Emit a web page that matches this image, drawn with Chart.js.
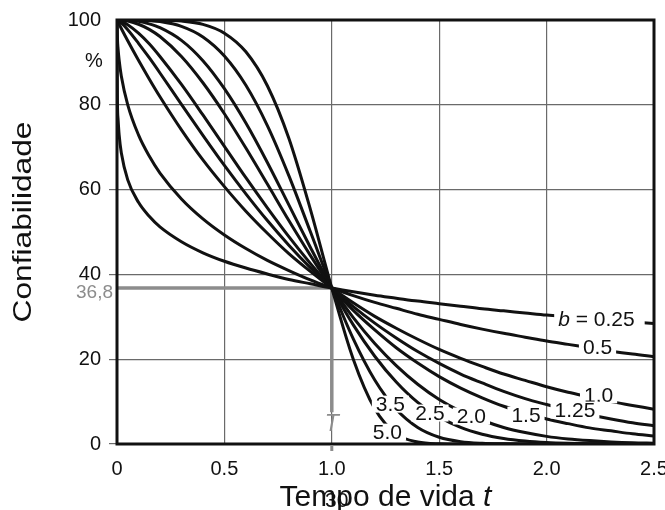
<!DOCTYPE html>
<html><head><meta charset="utf-8">
<script src="https://cdn.jsdelivr.net/npm/chart.js@4/dist/chart.umd.min.js"></script>
<style>html,body{margin:0;padding:0;background:#fff}canvas{display:block}</style>
</head><body>
<canvas id="c" width="665" height="510"></canvas>
<script>
// ---- data ----
const tValues = [0, 0.002, 0.005, 0.01, 0.02, 0.05, 0.1, 0.15, 0.2, 0.3, 0.4, 0.5, 0.6, 0.7, 0.8, 0.9, 1.0, 1.1, 1.2, 1.3, 1.4, 1.5, 1.6, 1.7, 1.8, 1.9, 2.0, 2.1, 2.2, 2.3, 2.4, 2.5];
const r_b025 = [100, 80.9, 76.6, 72.9, 68.7, 62.3, 57.0, 53.7, 51.2, 47.7, 45.1, 43.1, 41.5, 40.1, 38.8, 37.8, 36.8, 35.9, 35.1, 34.4, 33.7, 33.1, 32.5, 31.9, 31.4, 30.9, 30.4, 30.0, 29.6, 29.2, 28.8, 28.4];
const r_b05  = [100, 95.6, 93.2, 90.5, 86.8, 80.0, 72.9, 67.9, 63.9, 57.8, 53.1, 49.3, 46.1, 43.3, 40.9, 38.7, 36.8, 35.0, 33.4, 32.0, 30.6, 29.4, 28.2, 27.1, 26.1, 25.2, 24.3, 23.5, 22.7, 21.9, 21.2, 20.6];
const r_b10  = [100, 99.8, 99.5, 99.0, 98.0, 95.1, 90.5, 86.1, 81.9, 74.1, 67.0, 60.7, 54.9, 49.7, 44.9, 40.7, 36.8, 33.3, 30.1, 27.3, 24.7, 22.3, 20.2, 18.3, 16.5, 15.0, 13.5, 12.2, 11.1, 10.0, 9.1, 8.2];
const r_b125 = [100, 99.96, 99.87, 99.7, 99.3, 97.7, 94.5, 91.1, 87.5, 80.1, 72.8, 65.7, 59.0, 52.7, 46.9, 41.6, 36.8, 32.4, 28.5, 25.0, 21.8, 19.0, 16.5, 14.4, 12.4, 10.7, 9.3, 8.0, 6.9, 5.9, 5.0, 4.3];
const r_b15  = [100, 99.99, 99.96, 99.9, 99.7, 98.9, 96.9, 94.4, 91.4, 84.8, 77.6, 70.2, 62.8, 55.7, 48.9, 42.6, 36.8, 31.5, 26.9, 22.7, 19.1, 15.9, 13.2, 10.9, 8.9, 7.3, 5.9, 4.8, 3.8, 3.1, 2.4, 1.9];
const r_b20  = [100, 100, 100, 99.99, 99.96, 99.75, 99.0, 97.8, 96.1, 91.4, 85.2, 77.9, 69.8, 61.3, 52.7, 44.5, 36.8, 29.8, 23.7, 18.5, 14.1, 10.5, 7.7, 5.6, 3.9, 2.7, 1.8, 1.2, 0.8, 0.5, 0.3, 0.2];
const r_b25  = [100, 100, 100, 100, 99.99, 99.9, 99.7, 99.1, 98.2, 95.2, 90.4, 83.8, 75.7, 66.4, 56.4, 46.4, 36.8, 28.1, 20.7, 14.6, 9.8, 6.4, 3.9, 2.3, 1.3, 0.7, 0.35, 0.17, 0.08, 0.03, 0.01, 0];
const r_b35  = [100, 100, 100, 100, 100, 100, 99.97, 99.87, 99.64, 98.5, 96.0, 91.5, 84.6, 75.1, 63.3, 50.1, 36.8, 24.8, 15.1, 8.2, 3.9, 1.6, 0.56, 0.17, 0.04, 0.01, 0, 0, 0, 0, 0, 0];
const r_b50  = [100, 100, 100, 100, 100, 100, 100, 100, 99.97, 99.76, 98.98, 96.9, 92.5, 84.5, 72.1, 55.4, 36.8, 20.0, 8.3, 2.4, 0.46, 0.05, 0, 0, 0, 0, 0, 0, 0, 0, 0, 0];
const shapeNames = ['0.25', '0.5', '1.0', '1.25', '1.5', '2.0', '2.5', '3.5', '5.0'];
const xTicks = [0, 0.5, 1.0, 1.5, 2.0, 2.5];
const xTickLabels = ['0', '0.5', '1.0', '1.5', '2.0', '2.5'];
const yTicks = [0, 20, 40, 60, 80, 100];
const yTickLabels = ['0', '20', '40', '60', '80', '100'];
const refLevel = 36.8;
const refLevelLabel = '36,8';
const refTime = 1.0;

// ---- presentation ----
const FONT = '"Liberation Sans", Arial, Helvetica, sans-serif';
const GREY = '#8c8c8c';
const series = [r_b025, r_b05, r_b10, r_b125, r_b15, r_b20, r_b25, r_b35, r_b50];
const labelAnchors = { // data coordinates of curve labels
  '0.25': [2.232, 29.5], '0.5': [2.237, 22.9], '1.0': [2.242, 11.6], '1.25': [2.132, 8.0],
  '1.5': [1.904, 6.8], '2.0': [1.650, 6.6], '2.5': [1.457, 7.3], '3.5': [1.273, 9.4], '5.0': [1.259, 2.8]
};

const datasets = series.map((arr, i) => ({
  label: 'b = ' + shapeNames[i],
  data: tValues.map((t, k) => ({x: t, y: arr[k]})),
  borderColor: '#111',
  borderWidth: 3,
  pointRadius: 0,
  fill: false,
  cubicInterpolationMode: 'monotone'
}));

const annot = {
  id: 'annot',
  beforeDraw(chart) {
    const c = chart.ctx; c.save(); c.fillStyle = '#fff'; c.fillRect(0, 0, chart.width, chart.height); c.restore();
  },
  beforeDatasetsDraw(chart) {
    const {ctx, scales: {x, y}} = chart;
    ctx.save();
    ctx.strokeStyle = GREY; ctx.lineWidth = 3.5; ctx.lineCap = 'butt'; ctx.lineJoin = 'miter';
    ctx.beginPath();
    ctx.moveTo(x.getPixelForValue(0), y.getPixelForValue(refLevel));
    ctx.lineTo(x.getPixelForValue(refTime), y.getPixelForValue(refLevel));
    ctx.lineTo(x.getPixelForValue(refTime), y.getPixelForValue(7.5));
    ctx.stroke();
    ctx.restore();
  },
  afterDatasetsDraw(chart) {
    const {ctx, scales: {x, y}} = chart;
    ctx.save();
    ctx.textBaseline = 'middle';
    shapeNames.forEach(name => {
      const [dx, dy] = labelAnchors[name];
      const cx = x.getPixelForValue(dx), cy = y.getPixelForValue(dy);
      const parts = name === '0.25' ? [['b', 'italic '], [' = ' + name, '']] : [[name, '']];
      let w = 0;
      parts.forEach(p => { ctx.font = p[1] + '21px ' + FONT; w += ctx.measureText(p[0]).width; });
      const x0 = cx - w / 2;
      ctx.fillStyle = '#fff';
      const padR = name === '0.25' ? 10 : 4;
      ctx.fillRect(x0 - 4, cy - 8.5, w + 4 + padR, 17);
      ctx.fillStyle = '#111';
      let xx = x0;
      parts.forEach(p => { ctx.font = p[1] + '21px ' + FONT; ctx.textAlign = 'left'; ctx.fillText(p[0], xx, cy + 1); xx += ctx.measureText(p[0]).width; });
    });
    ctx.restore();
  },
  afterDraw(chart) {
    const {ctx, chartArea: a, scales: {x, y}} = chart;
    ctx.save();
    // frame
    ctx.strokeStyle = '#111'; ctx.lineWidth = 3;
    ctx.strokeRect(a.left, a.top, a.right - a.left, a.bottom - a.top);
    // grey tick under T
    ctx.strokeStyle = GREY; ctx.lineWidth = 3;
    ctx.beginPath(); ctx.moveTo(x.getPixelForValue(refTime), a.bottom + 1); ctx.lineTo(x.getPixelForValue(refTime), a.bottom + 7); ctx.stroke();
    // T label
    ctx.fillStyle = GREY; ctx.font = 'italic 23px ' + FONT; ctx.textAlign = 'center'; ctx.textBaseline = 'middle';
    ctx.fillText('T', x.getPixelForValue(refTime), y.getPixelForValue(4.5));
    // 36,8
    ctx.font = '19px ' + FONT; ctx.textAlign = 'right';
    ctx.fillText(refLevelLabel, a.left - 4, y.getPixelForValue(refLevel) + 5);
    // % unit
    ctx.fillStyle = '#111'; ctx.font = '20px ' + FONT; ctx.textAlign = 'center';
    ctx.fillText('%', a.left - 23, 61);
    // y title
    ctx.save();
    ctx.translate(24, 222); ctx.rotate(-Math.PI / 2);
    ctx.font = '26px ' + FONT; ctx.textAlign = 'center'; ctx.textBaseline = 'middle';
    const yt = 'Confiabilidade';
    const sc = 201 / ctx.measureText(yt).width;
    ctx.scale(sc, 1);
    ctx.fillText(yt, 0, 0);
    ctx.restore();
    // x title
    ctx.textBaseline = 'alphabetic'; ctx.textAlign = 'left';
    ctx.font = '30px ' + FONT;
    const main = 'Tempo de vida ';
    const wMain = ctx.measureText(main).width;
    ctx.font = 'italic 30px ' + FONT;
    const wT = ctx.measureText('t').width;
    const cxT = (a.left + a.right) / 2;
    const sx = cxT - (wMain + wT) / 2;
    ctx.font = '30px ' + FONT; ctx.fillText(main, sx, 506);
    ctx.font = 'italic 30px ' + FONT; ctx.fillText('t', sx + wMain, 506);
    // page number printed over the title
    ctx.font = '21px ' + FONT; ctx.fillText('30', 325, 507);
    ctx.restore();
  }
};

new Chart(document.getElementById('c'), {
  type: 'line',
  data: {datasets},
  options: {
    responsive: false, animation: false, devicePixelRatio: 1,
    layout: {padding: {top: 20, right: 11, left: 0, bottom: 0}, autoPadding: false},
    plugins: {legend: {display: false}, tooltip: {enabled: false}},
    scales: {
      x: {
        type: 'linear', min: 0, max: 2.5,
        afterBuildTicks: s => { s.ticks = xTicks.map(v => ({value: v})); },
        afterFit: s => { s.height = 66; s.paddingLeft = 0; s.paddingRight = 0; },
        ticks: {callback: (v) => xTickLabels[xTicks.indexOf(v)], color: '#111', font: {family: FONT, size: 20}, padding: 13, maxRotation: 0, autoSkip: false},
        grid: {color: ctx => (ctx.tick && (ctx.tick.value === 0 || ctx.tick.value === 2.5)) ? 'rgba(0,0,0,0)' : '#6a6a6a', lineWidth: 1.2, drawTicks: false},
        border: {display: false}
      },
      y: {
        type: 'linear', min: 0, max: 100,
        afterBuildTicks: s => { s.ticks = yTicks.map(v => ({value: v})); },
        afterFit: s => { s.width = 117; s.paddingTop = 0; s.paddingBottom = 0; },
        ticks: {callback: (v) => yTickLabels[yTicks.indexOf(v)], color: '#111', font: {family: FONT, size: 20}, padding: 8},
        grid: {color: ctx => (ctx.tick && (ctx.tick.value === 100)) ? 'rgba(0,0,0,0)' : '#6a6a6a', lineWidth: 1.2, tickLength: 8},
        border: {display: false}
      }
    }
  },
  plugins: [annot]
});
</script>
</body></html>
